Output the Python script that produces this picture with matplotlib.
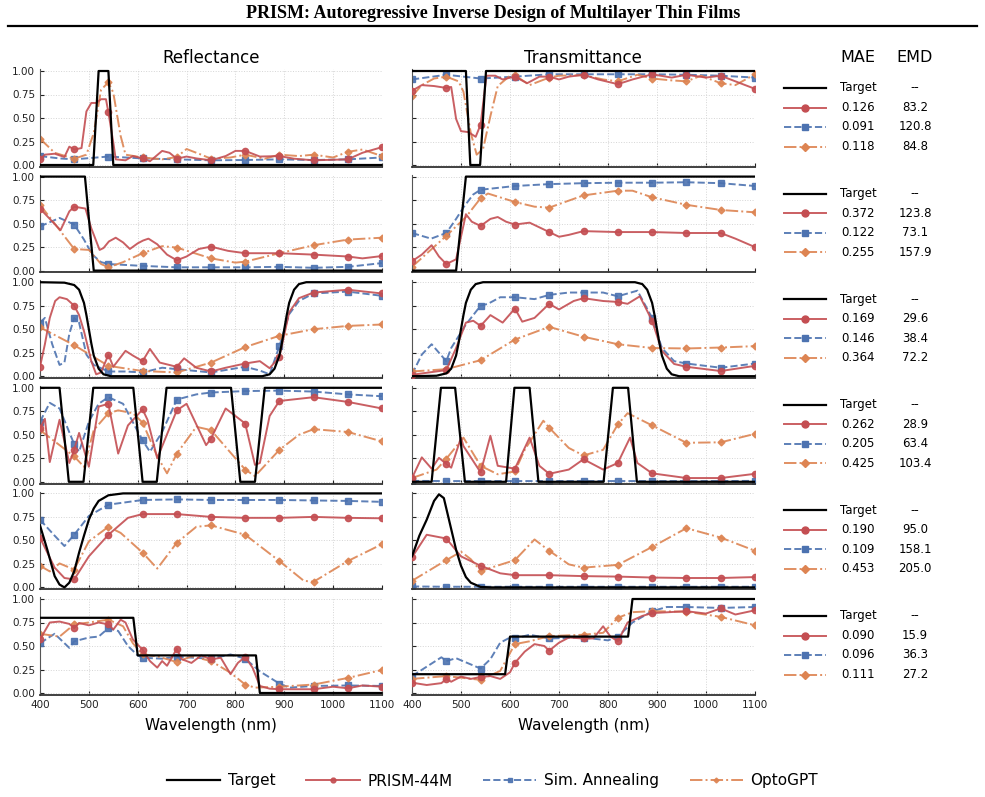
import numpy as np
import matplotlib
matplotlib.use('Agg')
import matplotlib.pyplot as plt
from matplotlib.lines import Line2D

# ---- data: (wavelength nm, value) pairs ----
MARK_WL = [400, 470, 540, 610, 680, 750, 820, 890, 960, 1030, 1100]
METHODS = ['Target', 'PRISM-44M', 'Sim. Annealing', 'OptoGPT']

# row 1
R1_TARGET = [(400, 0), (509, 0), (520, 1), (540, 1), (550, 0), (1100, 0)]
R1_PRISM = [(400, .06), (410, .11), (430, .12), (450, .085), (460, .195), (470, .165), (485, .18), (495, .57),
            (505, .66), (515, .66), (525, .70), (535, .70), (540, .56), (550, .24), (555, .06), (575, .05),
            (590, .095), (610, .07), (625, .04), (650, .15), (665, .13), (680, .067), (700, .09), (720, .07),
            (750, .05), (780, .095), (800, .15), (820, .15), (850, .09), (890, .095), (920, .067), (960, .05),
            (1030, .06), (1060, .13), (1100, .19)]
R1_SA = [(400, .095), (440, .07), (470, .06), (540, .09), (610, .07), (680, .06), (750, .05), (820, .053),
         (890, .06), (960, .053), (1030, .06), (1100, .08)]
R1_GPT = [(400, .28), (430, .13), (470, .067), (495, .11), (510, .34), (525, .80), (540, .88), (550, .77),
          (565, .31), (575, .11), (610, .08), (650, .06), (680, .085), (700, .17), (730, .11), (750, .067),
          (790, .08), (820, .11), (860, .067), (890, .11), (930, .095), (960, .11), (1000, .08), (1030, .14),
          (1060, .165), (1100, .095)]
T1_TARGET = [(400, 1), (510, 1), (519, 0), (539, 0), (551, 1), (1100, 1)]
T1_PRISM = [(400, .79), (420, .85), (445, .84), (470, .82), (480, .83), (490, .49), (500, .36), (515, .35),
            (530, .30), (540, .43), (552, .95), (570, .95), (585, .91), (610, .94), (635, .87), (660, .94),
            (680, .94), (700, .91), (720, .94), (750, .96), (780, .91), (820, .86), (850, .91), (890, .965),
            (930, .93), (960, .96), (1000, .93), (1030, .95), (1100, .81)]
T1_SA = [(400, .91), (470, .96), (540, .92), (610, .94), (680, .965), (750, .965), (820, .965), (890, .965),
         (960, .96), (1030, .95), (1100, .93)]
T1_GPT = [(400, .73), (420, .85), (445, .92), (470, .94), (495, .89), (505, .78), (520, .34), (532, .11),
          (545, .17), (560, .52), (575, .84), (600, .95), (610, .955), (640, .85), (680, .93), (700, .95),
          (750, .955), (790, .91), (820, .89), (860, .96), (890, .92), (930, .90), (960, .89), (990, .95),
          (1030, .87), (1060, .85), (1100, .965)]

# row 2
R2_TARGET = [(400, 1), (492, 1), (510, 0), (1100, 0)]
R2_PRISM = [(400, .66), (420, .55), (442, .43), (460, .63), (470, .68), (493, .66), (505, .45), (522, .22),
            (530, .24), (541, .31), (555, .35), (570, .30), (584, .23), (600, .29), (611, .32), (622, .34),
            (640, .28), (660, .17), (680, .11), (700, .15), (725, .23), (750, .255), (785, .21), (820, .185),
            (890, .185), (960, .17), (1030, .15), (1060, .13), (1100, .155)]
R2_SA = [(400, .47), (440, .56), (470, .49), (490, .33), (507, .17), (525, .09), (540, .07), (610, .05),
         (680, .035), (750, .035), (820, .035), (890, .04), (960, .03), (1030, .04), (1100, .08)]
R2_GPT = [(400, .70), (430, .50), (470, .23), (500, .22), (525, .07), (540, .035), (570, .09), (610, .185),
          (650, .26), (680, .245), (750, .13), (800, .085), (820, .095), (890, .185), (960, .27), (1030, .33),
          (1100, .35)]
T2_TARGET = [(400, 0), (490, 0), (510, 1), (1100, 1)]
T2_PRISM = [(400, .10), (420, .17), (440, .27), (455, .15), (470, .07), (490, .12), (510, .60), (522, .52),
            (540, .475), (560, .55), (575, .57), (592, .52), (610, .49), (640, .51), (660, .46), (680, .41),
            (700, .36), (720, .38), (750, .42), (820, .41), (890, .41), (960, .40), (1030, .40), (1060, .34),
            (1100, .25)]
T2_SA = [(400, .40), (439, .34), (470, .40), (490, .55), (506, .68), (525, .81), (540, .86), (610, .90),
         (680, .92), (750, .93), (820, .935), (890, .935), (960, .94), (1030, .93), (1100, .90)]
T2_GPT = [(400, .04), (470, .37), (510, .57), (540, .77), (555, .82), (610, .73), (650, .68), (680, .67),
          (750, .80), (820, .85), (850, .85), (890, .78), (960, .70), (1030, .645), (1100, .62)]

# row 3
R3_TARGET = [(400, 1), (450, .995), (470, .97), (480, .92), (490, .78), (495, .65), (500, .5), (505, .35),
             (510, .22), (520, .08), (530, .02), (545, 0), (855, 0), (870, .02), (880, .08), (890, .22),
             (895, .35), (900, .5), (905, .65), (910, .78), (920, .92), (930, .98), (945, 1), (1100, 1)]
R3_PRISM = [(400, .10), (410, .34), (420, .62), (431, .80), (440, .84), (455, .82), (470, .75), (480, .65),
            (490, .48), (505, .16), (515, .02), (525, .04), (540, .23), (550, .10), (575, .27), (590, .22),
            (610, .16), (625, .29), (645, .145), (680, .10), (695, .19), (720, .09), (750, .05), (780, .09),
            (820, .135), (850, .16), (870, .085), (890, .205), (910, .68), (930, .83), (960, .89), (1030, .92),
            (1100, .88)]
R3_SA = [(400, .57), (410, .62), (425, .34), (440, .12), (450, .145), (460, .45), (470, .62), (480, .57),
         (495, .23), (510, .12), (540, .05), (575, .05), (610, .04), (650, .09), (680, .075), (750, .04),
         (820, .10), (850, .06), (870, .02), (890, .32), (910, .66), (930, .80), (960, .88), (1030, .90),
         (1100, .855)]
R3_GPT = [(400, .52), (470, .33), (540, .11), (610, .055), (680, .04), (750, .145), (820, .31), (890, .43),
          (960, .50), (1030, .535), (1100, .55)]
T3_TARGET = [(400, 0), (450, .005), (470, .03), (480, .08), (490, .22), (495, .35), (500, .5), (505, .65),
             (510, .78), (520, .92), (530, .98), (545, 1), (855, 1), (870, .98), (880, .92), (890, .78),
             (895, .65), (900, .5), (905, .35), (910, .22), (920, .08), (930, .02), (945, 0), (1100, 0)]
T3_PRISM = [(400, .015), (470, .065), (490, .30), (510, .57), (525, .59), (540, .535), (560, .65), (585, .57),
            (610, .72), (625, .58), (650, .62), (680, .77), (700, .71), (730, .80), (750, .83), (790, .80),
            (820, .79), (840, .77), (865, .85), (890, .59), (910, .27), (935, .13), (960, .10), (1030, .055),
            (1100, .11)]
T3_SA = [(400, .02), (420, .23), (440, .34), (470, .16), (480, .30), (510, .55), (540, .75), (555, .77),
         (580, .84), (610, .84), (650, .82), (680, .865), (720, .89), (750, .89), (790, .89), (820, .85),
         (860, .91), (890, .62), (910, .30), (935, .16), (960, .135), (1030, .09), (1100, .135)]
T3_GPT = [(400, .05), (470, .075), (540, .17), (610, .39), (680, .525), (750, .42), (820, .34), (890, .30),
          (960, .295), (1030, .305), (1100, .32)]

# row 4
R4_TARGET = [(400, 1), (440, 1), (459, 0), (489, 0), (509, 1), (591, 1), (610, 0), (639, 0), (659, 1),
             (791, 1), (810, 0), (840, 0), (860, 1), (1100, 1)]
R4_PRISM = [(400, .57), (410, .67), (420, .21), (440, .66), (460, .20), (470, .34), (480, .52), (500, .16),
            (520, .80), (540, .83), (560, .30), (580, .60), (610, .77), (620, .66), (640, .25), (680, .76),
            (700, .83), (740, .39), (750, .46), (780, .78), (820, .62), (840, .18), (850, .20), (870, .70),
            (890, .86), (960, .90), (1030, .85), (1100, .78)]
R4_SA = [(400, .64), (420, .84), (440, .78), (470, .40), (480, .32), (500, .64), (520, .83), (540, .90),
         (570, .83), (610, .44), (625, .32), (650, .53), (680, .875), (720, .93), (750, .95), (820, .965),
         (890, .97), (960, .96), (1030, .93), (1100, .91)]
R4_GPT = [(400, .55), (470, .27), (490, .16), (510, .55), (540, .73), (560, .76), (590, .73), (610, .63),
          (640, .27), (660, .09), (680, .30), (720, .585), (750, .55), (780, .37), (820, .13), (840, .06),
          (890, .34), (930, .50), (960, .56), (1030, .53), (1100, .43)]
T4_TARGET = [(400, 0), (440, 0), (459, 1), (488, 1), (508, 0), (592, 0), (609, 1), (640, 1), (658, 0),
             (791, 0), (810, 1), (841, 1), (859, 0), (1100, 0)]
T4_PRISM = [(400, .04), (420, .26), (440, .14), (455, .255), (470, .19), (480, .15), (500, .47), (505, .38),
            (540, .10), (560, .49), (575, .17), (610, .14), (640, .47), (660, .17), (680, .085), (720, .13),
            (750, .24), (790, .13), (820, .20), (845, .47), (860, .20), (890, .09), (960, .04), (1030, .04),
            (1100, .085)]
T4_SA = [(400, .01), (470, .008), (540, .008), (610, .008), (680, .008), (750, .008), (820, .008),
         (890, .008), (960, .008), (1030, .008), (1100, .01)]
T4_GPT = [(400, .04), (450, .13), (470, .245), (505, .47), (540, .17), (575, .08), (610, .11), (630, .34),
          (668, .65), (680, .575), (720, .36), (750, .28), (790, .34), (820, .61), (840, .73), (890, .60),
          (960, .415), (1030, .42), (1100, .51)]

# row 5
R5_TARGET = [(400, .66), (415, .40), (430, .12), (440, .03), (450, 0), (460, .05), (470, .17), (480, .37),
             (490, .55), (500, .72), (510, .84), (520, .92), (540, .98), (570, 1), (1100, 1)]
R5_PRISM = [(400, .53), (430, .21), (450, .10), (470, .085), (500, .33), (540, .56), (580, .74), (610, .78),
            (680, .78), (750, .75), (820, .74), (890, .74), (960, .75), (1030, .74), (1100, .735)]
R5_SA = [(400, .72), (430, .55), (450, .44), (470, .56), (500, .76), (540, .88), (610, .93), (680, .936),
         (750, .93), (820, .93), (890, .93), (960, .925), (1030, .92), (1100, .91)]
R5_GPT = [(400, .23), (420, .17), (440, .255), (470, .19), (500, .49), (540, .645), (565, .58), (610, .37),
          (640, .20), (680, .475), (720, .645), (750, .66), (820, .56), (890, .28), (940, .07), (960, .06),
          (1030, .28), (1100, .46)]
T5_TARGET = [(400, .33), (415, .55), (430, .72), (445, .92), (455, .99), (465, .95), (480, .62), (490, .40),
             (500, .23), (510, .11), (520, .05), (540, .005), (560, 0), (1100, 0)]
T5_PRISM = [(400, .32), (430, .56), (470, .52), (500, .33), (540, .23), (580, .15), (610, .13), (680, .13),
            (750, .12), (820, .115), (890, .105), (960, .10), (1030, .10), (1100, .11)]
T5_SA = [(400, .01), (470, .007), (540, .007), (610, .007), (680, .007), (750, .007), (820, .007),
         (890, .007), (960, .007), (1030, .007), (1100, .007)]
T5_GPT = [(400, .07), (470, .29), (500, .38), (520, .30), (540, .175), (610, .29), (650, .51), (680, .39),
          (720, .245), (750, .21), (820, .24), (890, .43), (960, .63), (1030, .53), (1100, .39)]

# row 6
R6_TARGET = [(400, .8), (591, .8), (600, .4), (842, .4), (850, 0), (1100, 0)]
R6_PRISM = [(400, .57), (420, .75), (440, .76), (460, .735), (470, .69), (480, .745), (500, .72), (520, .75),
            (540, .73), (550, .675), (565, .78), (575, .75), (590, .57), (610, .46), (625, .34), (640, .27),
            (650, .34), (660, .29), (680, .47), (690, .36), (710, .32), (730, .40), (750, .357), (770, .375),
            (790, .20), (805, .32), (820, .385), (835, .27), (850, .075), (870, .046), (890, .04), (960, .04),
            (1000, .067), (1030, .05), (1060, .08), (1100, .067)]
R6_SA = [(400, .53), (430, .63), (460, .48), (470, .55), (500, .59), (520, .60), (540, .69), (560, .66),
         (580, .50), (600, .40), (610, .375), (650, .365), (680, .385), (750, .365), (790, .41), (820, .365),
         (850, .23), (890, .10), (910, .057), (960, .075), (1030, .08), (1100, .075)]
R6_GPT = [(400, .63), (440, .60), (470, .73), (500, .75), (540, .78), (570, .71), (590, .53), (610, .41),
          (640, .39), (680, .33), (710, .39), (750, .34), (790, .215), (820, .09), (840, .057), (890, .067),
          (960, .09), (1030, .16), (1100, .245)]
T6_TARGET = [(400, .2), (590, .2), (600, .6), (841, .6), (850, 1), (1100, 1)]
T6_PRISM = [(400, .11), (430, .085), (460, .105), (470, .15), (480, .12), (500, .175), (520, .15), (540, .17),
            (560, .18), (580, .15), (600, .22), (610, .32), (630, .44), (650, .52), (670, .50), (680, .45),
            (700, .535), (720, .59), (750, .58), (770, .58), (790, .71), (805, .60), (820, .55), (840, .75),
            (870, .82), (890, .85), (960, .87), (1000, .845), (1030, .90), (1060, .835), (1100, .88)]
T6_SA = [(400, .18), (430, .28), (460, .38), (470, .34), (490, .37), (540, .26), (560, .36), (580, .535),
         (600, .59), (610, .58), (640, .62), (680, .58), (750, .59), (800, .56), (820, .60), (850, .75),
         (890, .87), (920, .915), (960, .915), (1030, .905), (1100, .915)]
T6_GPT = [(400, .15), (470, .18), (540, .14), (580, .235), (610, .52), (640, .55), (680, .605), (750, .62),
          (790, .64), (820, .80), (850, .86), (890, .87), (960, .865), (1030, .81), (1100, .72)]

# metrics per row: PRISM, SA, OptoGPT
MAE = [[0.126, 0.091, 0.118], [0.372, 0.122, 0.255], [0.169, 0.146, 0.364],
       [0.262, 0.205, 0.425], [0.190, 0.109, 0.453], [0.090, 0.096, 0.111]]
EMD = [[83.2, 120.8, 84.8], [123.8, 73.1, 157.9], [29.6, 38.4, 72.2],
       [28.9, 63.4, 103.4], [95.0, 158.1, 205.0], [15.9, 36.3, 27.2]]

REFL = [(R1_TARGET, R1_PRISM, R1_SA, R1_GPT), (R2_TARGET, R2_PRISM, R2_SA, R2_GPT),
        (R3_TARGET, R3_PRISM, R3_SA, R3_GPT), (R4_TARGET, R4_PRISM, R4_SA, R4_GPT),
        (R5_TARGET, R5_PRISM, R5_SA, R5_GPT), (R6_TARGET, R6_PRISM, R6_SA, R6_GPT)]
TRANS = [(T1_TARGET, T1_PRISM, T1_SA, T1_GPT), (T2_TARGET, T2_PRISM, T2_SA, T2_GPT),
         (T3_TARGET, T3_PRISM, T3_SA, T3_GPT), (T4_TARGET, T4_PRISM, T4_SA, T4_GPT),
         (T5_TARGET, T5_PRISM, T5_SA, T5_GPT), (T6_TARGET, T6_PRISM, T6_SA, T6_GPT)]

# ---- styles ----
STYLES = [
    dict(color='black', ls='-', lw=1.6, marker=None, ms=0, zorder=4, alpha=1.0),
    dict(color='#C44E52', ls='-', lw=1.4, marker='o', ms=4.5, zorder=3, alpha=0.9),
    dict(color='#4C72B0', ls='--', lw=1.4, marker='s', ms=4, zorder=2, alpha=0.9),
    dict(color='#DD8452', ls='-.', lw=1.4, marker='D', ms=3.5, zorder=2, alpha=0.9),
]

W, H = 985, 797
fig = plt.figure(figsize=(W / 100, H / 100), dpi=100)


def fx(x):
    return x / W


def fy(y):
    return 1 - y / H


def draw_series(ax, pts, st):
    x = np.array([p[0] for p in pts], dtype=float)
    y = np.array([p[1] for p in pts], dtype=float)
    mk = [i for i, v in enumerate(x) if int(v) in MARK_WL] if st['marker'] else None
    ax.plot(x, y, color=st['color'], ls=st['ls'], lw=st['lw'], marker=st['marker'],
            ms=st['ms'], markevery=mk, zorder=st['zorder'], alpha=st['alpha'])


YPAD = 0.02
ROW_STEP = 105.6
for r in range(6):
    y_one = 71 + ROW_STEP * r
    y_zero = y_one + 94
    top = y_one - YPAD * 94
    bot = y_zero + YPAD * 94
    for c, (x0, x1, data) in enumerate([(40, 382, REFL[r]), (412, 755, TRANS[r])]):
        ax = fig.add_axes([fx(x0), fy(bot), (x1 - x0) / W, (bot - top) / H])
        for pts, st in zip(data, STYLES):
            draw_series(ax, pts, st)
        ax.set_xlim(400, 1100)
        ax.set_ylim(-YPAD, 1 + YPAD)
        ax.set_xticks(range(400, 1101, 100))
        ax.set_yticks([0, 0.25, 0.5, 0.75, 1.0])
        ax.grid(True, color='#d5d5d5', ls=':', lw=0.7)
        ax.set_axisbelow(True)
        for s in ['top', 'right']:
            ax.spines[s].set_visible(False)
        ax.spines['left'].set_color('#555555')
        ax.spines['bottom'].set_color('#333333')
        ax.spines['bottom'].set_linewidth(1.3)
        ax.tick_params(direction='in', length=3, width=0.8, labelsize=7.5, colors='#222222')
        if c == 1:
            ax.set_yticklabels([])
        if r < 5:
            ax.set_xticklabels([])
        else:
            ax.set_xlabel('Wavelength (nm)', fontsize=11, labelpad=6)

    # metric table for this row
    ty = 88 + ROW_STEP * r
    for k in range(4):
        yy = ty + 19.5 * k
        st = STYLES[k]
        fig.add_artist(Line2D([fx(784), fx(826)], [fy(yy), fy(yy)], transform=fig.transFigure,
                              color=st['color'], ls=st['ls'], lw=st['lw'], alpha=st['alpha']))
        if st['marker']:
            fig.add_artist(Line2D([fx(805)], [fy(yy)], transform=fig.transFigure, color=st['color'],
                                  marker=st['marker'], ms=st['ms'] + 0.5, ls='none'))
        if k == 0:
            left, right = 'Target', '--'
        else:
            left, right = f'{MAE[r][k - 1]:.3f}', f'{EMD[r][k - 1]:.1f}'
        fig.text(fx(858), fy(yy), left, ha='center', va='center', fontsize=8.5)
        fig.text(fx(915), fy(yy), right, ha='center', va='center', fontsize=8.5)

# headers
fig.text(fx(211), fy(58), 'Reflectance', ha='center', va='center', fontsize=12)
fig.text(fx(583), fy(58), 'Transmittance', ha='center', va='center', fontsize=12)
fig.text(fx(858), fy(58), 'MAE', ha='center', va='center', fontsize=11.5)
fig.text(fx(915), fy(58), 'EMD', ha='center', va='center', fontsize=11.5)

# title and rule
fig.text(fx(493), fy(14), 'PRISM: Autoregressive Inverse Design of Multilayer Thin Films',
         ha='center', va='center', fontsize=13, fontweight='bold', family='Liberation Serif')
fig.add_artist(Line2D([fx(8), fx(977)], [fy(26), fy(26)], transform=fig.transFigure, color='black', lw=1.6))

# bottom legend
handles = [Line2D([], [], color=st['color'], ls=st['ls'], lw=st['lw'], marker=st['marker'],
                  ms=st['ms'] - 1 if st['marker'] else 0, alpha=st['alpha']) for st in STYLES]
fig.legend(handles, METHODS, loc='center', bbox_to_anchor=(0.5, fy(781)), ncol=4, frameon=False,
           fontsize=11, handlelength=3.5, handletextpad=0.5, columnspacing=2.0)

fig.savefig('out.png', dpi=100)
